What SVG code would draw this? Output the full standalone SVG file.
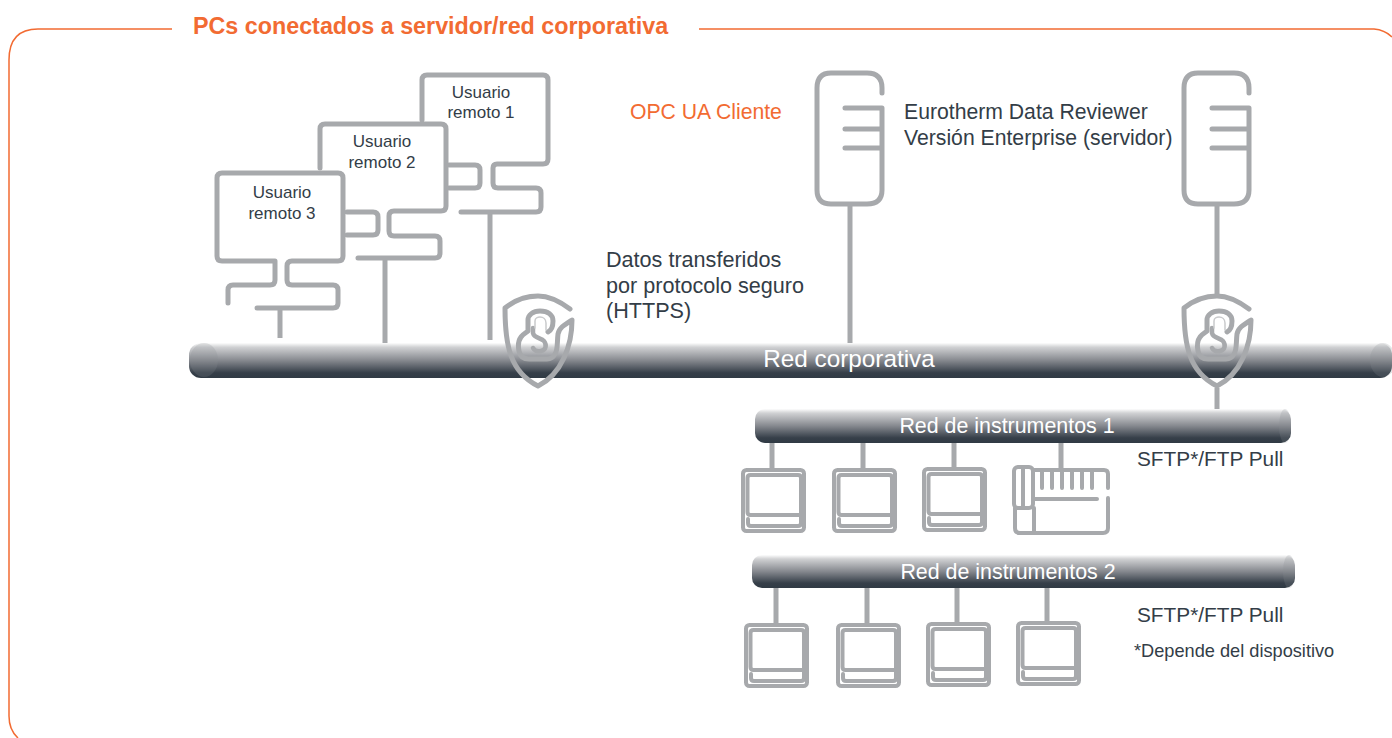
<svg xmlns="http://www.w3.org/2000/svg" xmlns:xlink="http://www.w3.org/1999/xlink" width="1392" height="738" viewBox="0 0 1392 738">
<style>
text{font-family:"Liberation Sans",Arial,sans-serif;fill:#333d47}
.o{fill:#f26b32}
.w{fill:#fff}
.g{fill:none;stroke:#a7a9ac;stroke-width:5;stroke-linecap:round;stroke-linejoin:round}
.k{fill:none;stroke:#a7a9ac;stroke-width:4.500;stroke-linecap:round;stroke-linejoin:round}
.h{fill:none;stroke:#c9cacc;stroke-width:1.500;stroke-linecap:round}
.c{fill:none;stroke:#a7a9ac;stroke-width:5}
.t{fill:none;stroke:#a7a9ac;stroke-width:4;stroke-linecap:round;stroke-linejoin:round}
.cap{fill:#8a8d93;opacity:.22}
.u{font-size:17px;text-anchor:middle}
.l{font-size:21.200px}
.d{font-size:21.600px}
.b{font-size:21.400px;text-anchor:middle}
.s{font-size:20.800px}
</style>
<defs>
<linearGradient id="bar" x1="0" y1="0" x2="0" y2="1">
<stop offset="0" stop-color="#fdfdfd"/><stop offset=".12" stop-color="#d0d1d3"/><stop offset=".5" stop-color="#85888e"/><stop offset=".85" stop-color="#363f49"/><stop offset="1" stop-color="#303a44"/>
</linearGradient>
<g id="shield">
<path class="g" d="M570 309C558 300 548 296 538 296C527 296 515 300 505 308C505 345 510 372 538 386C562 374 572 345 572 320C564 325 559 328 558 334C557 342 558 350 555 354C553 358 551 359 547 359H529C523 359 520 356 519 351C518 346 518 341 521 337C523 334 526 333 528 331V320C528 315 533 311 540 311C548 311 553 315 553 321C553 326 552 330 548 332"/>
<path class="k" d="M533 328V333C534 338 541 338 544 341C547 345 546 350 541 351C537 352 534 350 533 348"/>
<path class="h" d="M535 328V321C535 318 538 317 540 317C543 317 546 319 546 323V330"/>
</g>
<g id="panel">
<rect class="t" x="2" y="2" width="61" height="61" rx="3.500"/>
<path class="t" d="M60 47H9.500Q6.500 47 6.500 44V10Q6.500 7 9.500 7H57Q60 7 60 10V55Q60 58 57 58H10Q7 58 7 55V51"/>
</g>
<g id="server">
<path class="g" d="M1249 93V88Q1249 73 1234 73H1198Q1184 73 1184 88V190Q1184 204 1198 204H1234Q1249 204 1249 190V108H1212M1249 129H1212M1249 148H1212"/>
</g>
</defs>

<path id="frame" d="M172 29H38Q9 29 9 60V716Q9 730 18 738M699 29H1374Q1385 30 1392 37" fill="none" stroke="#f26b32" stroke-width="1.500"/>
<text class="o" x="193" y="34" font-size="23.300" font-weight="700">PCs conectados a servidor/red corporativa</text>

<g id="connectors">
<path class="c" d="M490 212V340M385 258V343M280 308V338M850 205V346M1217 205V298M1217 388V409"/>
<path class="c" d="M772 443V468M863 443V468M954 443V467M1061 443V470M776 588V623M867 588V623M957 588V622M1047 588V621"/>
</g>

<g id="red-corporativa">
<rect x="189" y="343" width="1203" height="35" rx="12" fill="url(#bar)"/>
<ellipse class="cap" cx="204" cy="360" rx="14" ry="17"/>
<ellipse class="cap" cx="1383" cy="360" rx="13" ry="17"/>
<text class="w" x="849" y="367" font-size="24.300" text-anchor="middle">Red corporativa</text>
</g>
<g id="red-instrumentos-1">
<rect x="755" y="409" width="536" height="34" rx="10" fill="url(#bar)"/>
<ellipse class="cap" cx="1285" cy="426" rx="6" ry="17"/>
<text class="w b" x="1007" y="433">Red de instrumentos 1</text>
</g>
<g id="red-instrumentos-2">
<rect x="752" y="555" width="543" height="33" rx="10" fill="url(#bar)"/>
<ellipse class="cap" cx="1289" cy="571.500" rx="6" ry="16.500"/>
<text class="w b" x="1008" y="579">Red de instrumentos 2</text>
</g>

<g id="usuario-1">
<path class="g" d="M422 120V80Q422 75 427 75H543Q548 75 548 80V159Q548 164 543 164H497Q493 164 493 168V183Q493 188 498 188H536Q541 188 541 193V207Q541 212 536 212H461M449 165H475Q480 165 480 170V183Q480 188 475 188H449"/>
<text class="u" x="481" y="98">Usuario</text><text class="u" x="481" y="118">remoto 1</text>
</g>
<g id="usuario-2">
<path class="g" d="M320 168V129Q320 124 325 124H441Q446 124 446 129V206Q446 211 441 211H394Q389 211 389 216V231Q389 236 394 236H435Q440 236 440 241V253Q440 258 435 258H358M347 212H373Q378 212 378 217V230Q378 235 373 235H347"/>
<text class="u" x="382" y="147">Usuario</text><text class="u" x="382" y="168">remoto 2</text>
</g>
<g id="usuario-3">
<path class="g" d="M275 261V280Q275 285 270 285H233Q228 285 228 290V303M275 261H222Q217 261 217 256V178Q217 173 222 173H338Q343 173 343 178V256Q343 261 338 261H292Q287 261 287 266V280Q287 285 292 285H333Q338 285 338 290V303Q338 308 333 308H257"/>
<text class="u" x="282" y="198">Usuario</text><text class="u" x="282" y="219">remoto 3</text>
</g>

<g id="servidor-1"><use xlink:href="#server" href="#server" transform="translate(-367 0)"/></g>
<g id="servidor-2"><use xlink:href="#server" href="#server"/></g>
<g id="escudo-1"><use xlink:href="#shield" href="#shield"/></g>
<g id="escudo-2"><use xlink:href="#shield" href="#shield" transform="translate(679 0)"/></g>

<g id="inst-1-1"><use href="#panel" transform="translate(741 468)"/></g>
<g id="inst-1-2"><use href="#panel" transform="translate(832 468)"/></g>
<g id="inst-1-3"><use href="#panel" transform="translate(922 467)"/></g>
<g id="inst-1-4">
<path class="t" d="M1034 470H1104Q1108 470 1108 474V488M1042 470V488M1052 470V488M1062 470V488M1072 470V488M1082 470V488M1092 470V488M1034 499H1097M1108 498V528Q1108 533 1103 533H1020Q1015 533 1015 528V508M1034 508V533"/>
<rect class="t" x="1014" y="467" width="19" height="41" rx="4"/>
<path class="t" d="M1023 467V508"/>
</g>
<g id="inst-2-1"><use href="#panel" transform="translate(744 623)"/></g>
<g id="inst-2-2"><use href="#panel" transform="translate(836 623)"/></g>
<g id="inst-2-3"><use href="#panel" transform="translate(926 622)"/></g>
<g id="inst-2-4"><use href="#panel" transform="translate(1016 621)"/></g>

<text class="o l" x="630" y="119">OPC UA Cliente</text>
<text class="l" x="904" y="119">Eurotherm Data Reviewer</text>
<text class="l" x="904" y="145">Versión Enterprise (servidor)</text>
<text class="d" x="606" y="267">Datos transferidos</text>
<text class="d" x="606" y="293">por protocolo seguro</text>
<text class="d" x="606" y="318">(HTTPS)</text>
<text class="s" x="1137" y="466">SFTP*/FTP Pull</text>
<text class="s" x="1137" y="622">SFTP*/FTP Pull</text>
<text x="1134" y="657" font-size="18.200">*Depende del dispositivo</text>
</svg>
